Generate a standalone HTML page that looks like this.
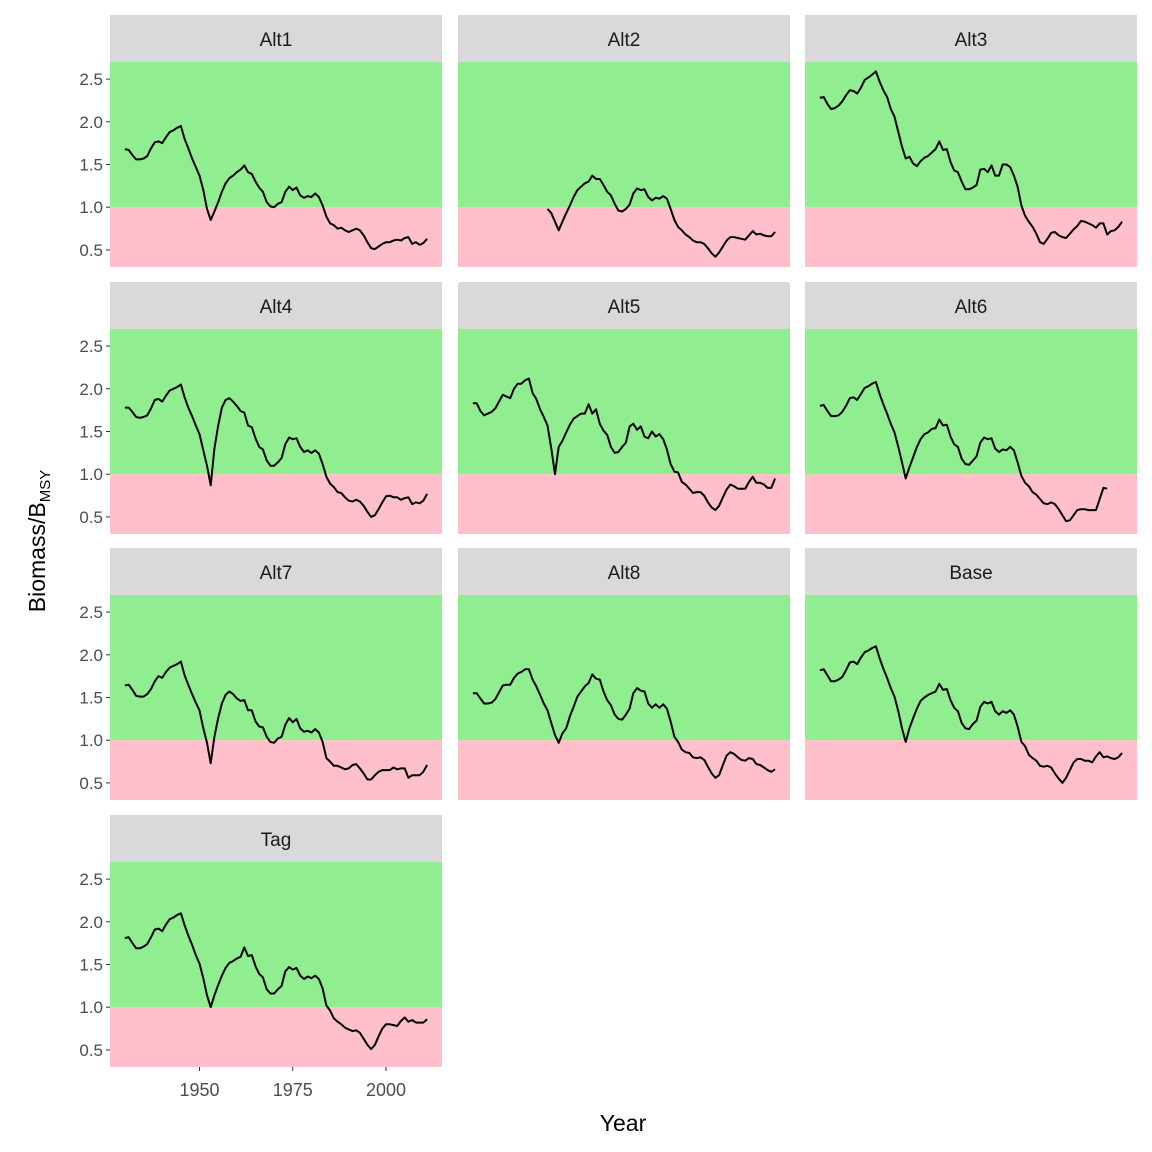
<!DOCTYPE html>
<html><head><meta charset="utf-8"><style>
html,body{margin:0;padding:0;background:#fff}
svg{display:block;font-family:"Liberation Sans",sans-serif}
</style></head><body>
<svg id="chart" width="1152" height="1152" viewBox="0 0 1152 1152" xmlns="http://www.w3.org/2000/svg">
<text x="623" y="1131" font-size="23" text-anchor="middle" fill="#000">Year</text>
<text transform="translate(45,541) rotate(-90)" font-size="23" text-anchor="middle" fill="#000">Biomass/B<tspan font-size="15" dy="5">MSY</tspan></text>
</svg>
<script>
const panels = ["Alt1","Alt2","Alt3","Alt4","Alt5","Alt6","Alt7","Alt8","Base","Tag"];
const startYears = [1930,1950,1930,1930,1930,1930,1930,1930,1930,1930];
const yTicks = [0.5,1.0,1.5,2.0,2.5];
const yTickLabels = ["0.5","1.0","1.5","2.0","2.5"];
const xTicks = [1950,1975,2000];
const xTickLabels = ["1950","1975","2000"];
const threshold = 1.0;
const alt1 = [1.68,1.67,1.61,1.56,1.56,1.57,1.60,1.69,1.76,1.77,1.75,1.82,1.88,1.90,1.93,1.95,1.80,1.69,1.57,1.47,1.37,1.20,0.98,0.85,0.95,1.06,1.18,1.28,1.34,1.37,1.41,1.44,1.49,1.41,1.39,1.30,1.23,1.18,1.06,1.01,1.00,1.04,1.06,1.18,1.24,1.20,1.23,1.14,1.11,1.13,1.12,1.16,1.12,1.02,0.89,0.81,0.79,0.75,0.76,0.73,0.71,0.73,0.75,0.73,0.67,0.59,0.52,0.51,0.54,0.57,0.59,0.59,0.61,0.62,0.61,0.64,0.65,0.57,0.59,0.56,0.58,0.63];
const alt2 = [0.98,0.93,0.83,0.73,0.83,0.93,1.02,1.12,1.20,1.24,1.28,1.30,1.37,1.33,1.33,1.26,1.18,1.14,1.04,0.96,0.95,0.98,1.03,1.16,1.22,1.20,1.21,1.12,1.08,1.11,1.10,1.13,1.10,0.98,0.85,0.77,0.73,0.68,0.65,0.61,0.59,0.59,0.57,0.52,0.46,0.42,0.47,0.54,0.61,0.65,0.65,0.64,0.63,0.62,0.67,0.72,0.68,0.69,0.67,0.66,0.66,0.71];
const alt3 = [2.28,2.29,2.21,2.15,2.16,2.19,2.24,2.31,2.37,2.36,2.33,2.40,2.49,2.52,2.55,2.59,2.47,2.37,2.29,2.15,2.06,1.88,1.71,1.57,1.59,1.51,1.48,1.54,1.58,1.60,1.64,1.68,1.77,1.67,1.68,1.53,1.43,1.41,1.30,1.21,1.21,1.23,1.26,1.44,1.45,1.41,1.49,1.37,1.37,1.50,1.50,1.47,1.37,1.24,1.02,0.90,0.83,0.77,0.69,0.59,0.57,0.63,0.70,0.71,0.67,0.65,0.64,0.69,0.74,0.78,0.84,0.83,0.81,0.79,0.76,0.81,0.81,0.68,0.72,0.73,0.77,0.83];
const alt4 = [1.78,1.78,1.73,1.67,1.66,1.67,1.69,1.77,1.87,1.88,1.85,1.92,1.98,2.00,2.02,2.05,1.90,1.78,1.68,1.57,1.47,1.28,1.10,0.87,1.30,1.57,1.78,1.87,1.89,1.85,1.80,1.74,1.72,1.57,1.55,1.42,1.32,1.29,1.16,1.10,1.10,1.14,1.19,1.35,1.43,1.41,1.42,1.32,1.26,1.28,1.25,1.28,1.24,1.12,0.97,0.89,0.85,0.79,0.78,0.73,0.69,0.68,0.70,0.68,0.63,0.56,0.50,0.52,0.59,0.67,0.74,0.75,0.73,0.73,0.70,0.72,0.73,0.65,0.67,0.66,0.69,0.77];
const alt5 = [1.83,1.83,1.74,1.69,1.71,1.73,1.77,1.85,1.93,1.91,1.89,2.00,2.06,2.06,2.10,2.12,1.95,1.88,1.76,1.67,1.57,1.30,1.00,1.32,1.39,1.49,1.58,1.65,1.68,1.71,1.71,1.82,1.71,1.76,1.59,1.51,1.46,1.32,1.25,1.26,1.32,1.37,1.56,1.59,1.52,1.56,1.44,1.42,1.50,1.44,1.47,1.41,1.29,1.12,1.03,1.02,0.91,0.88,0.83,0.78,0.79,0.79,0.75,0.67,0.61,0.58,0.63,0.73,0.82,0.88,0.86,0.83,0.83,0.83,0.91,0.97,0.90,0.90,0.88,0.84,0.84,0.95];
const alt6 = [1.80,1.81,1.74,1.68,1.68,1.69,1.73,1.80,1.89,1.90,1.87,1.94,2.01,2.03,2.06,2.08,1.94,1.82,1.71,1.59,1.49,1.32,1.14,0.95,1.08,1.20,1.32,1.41,1.47,1.49,1.53,1.54,1.64,1.57,1.58,1.44,1.35,1.32,1.18,1.12,1.11,1.16,1.21,1.37,1.43,1.41,1.42,1.30,1.26,1.29,1.28,1.32,1.28,1.14,0.98,0.90,0.86,0.79,0.76,0.71,0.66,0.65,0.67,0.65,0.59,0.52,0.45,0.46,0.52,0.58,0.59,0.59,0.58,0.58,0.58,0.71,0.84,0.83];
const alt7 = [1.64,1.65,1.59,1.52,1.51,1.51,1.54,1.60,1.69,1.75,1.73,1.80,1.85,1.87,1.89,1.92,1.76,1.65,1.54,1.44,1.35,1.14,0.97,0.73,1.04,1.26,1.43,1.53,1.57,1.54,1.49,1.46,1.47,1.35,1.35,1.22,1.16,1.15,1.04,0.98,0.97,1.02,1.04,1.18,1.26,1.21,1.25,1.14,1.10,1.11,1.09,1.13,1.09,0.98,0.79,0.75,0.70,0.70,0.68,0.66,0.67,0.71,0.72,0.67,0.61,0.54,0.54,0.59,0.63,0.65,0.65,0.65,0.68,0.66,0.67,0.67,0.56,0.59,0.59,0.59,0.63,0.71];
const alt8 = [1.55,1.55,1.49,1.43,1.43,1.44,1.48,1.56,1.64,1.65,1.65,1.73,1.78,1.80,1.83,1.83,1.71,1.63,1.53,1.43,1.35,1.20,1.06,0.97,1.08,1.14,1.28,1.39,1.51,1.57,1.63,1.67,1.77,1.72,1.71,1.57,1.47,1.41,1.30,1.25,1.24,1.30,1.37,1.55,1.61,1.58,1.57,1.43,1.38,1.42,1.38,1.42,1.37,1.22,1.04,0.98,0.89,0.86,0.85,0.80,0.79,0.80,0.77,0.69,0.61,0.56,0.59,0.71,0.82,0.86,0.84,0.80,0.77,0.76,0.79,0.78,0.72,0.71,0.68,0.65,0.63,0.66];
const base = [1.82,1.83,1.76,1.69,1.69,1.71,1.74,1.82,1.91,1.92,1.89,1.97,2.03,2.05,2.08,2.10,1.96,1.84,1.73,1.61,1.51,1.34,1.14,0.98,1.14,1.26,1.37,1.46,1.50,1.53,1.55,1.57,1.66,1.59,1.60,1.47,1.38,1.34,1.20,1.14,1.13,1.19,1.23,1.39,1.45,1.43,1.45,1.34,1.30,1.34,1.32,1.35,1.30,1.16,0.98,0.93,0.83,0.79,0.76,0.70,0.69,0.70,0.68,0.61,0.55,0.50,0.56,0.65,0.74,0.78,0.78,0.76,0.76,0.74,0.81,0.86,0.80,0.81,0.79,0.78,0.80,0.85];
const tag = [1.81,1.82,1.75,1.69,1.69,1.71,1.74,1.82,1.91,1.92,1.89,1.97,2.03,2.05,2.08,2.10,1.96,1.84,1.73,1.61,1.51,1.34,1.14,1.00,1.14,1.26,1.37,1.46,1.52,1.54,1.57,1.59,1.70,1.60,1.61,1.48,1.39,1.35,1.21,1.16,1.16,1.21,1.25,1.42,1.47,1.44,1.46,1.37,1.33,1.36,1.34,1.37,1.33,1.22,1.02,0.96,0.87,0.83,0.80,0.76,0.74,0.72,0.73,0.70,0.63,0.56,0.51,0.56,0.66,0.75,0.80,0.80,0.79,0.78,0.84,0.88,0.83,0.85,0.82,0.82,0.82,0.86];
const series = [alt1,alt2,alt3,alt4,alt5,alt6,alt7,alt8,base,tag];

const NS="http://www.w3.org/2000/svg";
const svg=document.getElementById('chart');
const colLeft=[110,458,805], rowTop=[15,282,548,815], PW=332, SH=47, PH=205;
const X0=1926.0, X1=2015.0, Y0=0.30, Y1=2.70;
function mk(tag, attrs, parent){const e=document.createElementNS(NS,tag);for(const k in attrs)e.setAttribute(k,attrs[k]);(parent||svg).appendChild(e);return e;}

panels.forEach((name,i)=>{
  const c=i%3, r=Math.floor(i/3);
  const left=colLeft[c], top=rowTop[r]+SH;
  const xs=y=>left+(y-X0)/(X1-X0)*PW;
  const ys=v=>top+(Y1-v)/(Y1-Y0)*PH;
  const g=mk('g',{});
  
  
  const strip=mk('rect',{x:left,y:rowTop[r],width:PW,height:SH,fill:'#d9d9d9'},g);
  
  
  const st=mk('text',{x:left+PW/2,y:rowTop[r]+31,'font-size':'19','text-anchor':'middle',fill:'#1a1a1a'},g);
  st.textContent=name;
  
  
  const green=mk('rect',{x:left,y:top,width:PW,height:ys(threshold)-top,fill:'#90ee90'},g);
  
  
  const pink=mk('rect',{x:left,y:ys(threshold),width:PW,height:top+PH-ys(threshold),fill:'#ffc0cb'},g);
  
  
  const vals=series[i];
  const d=vals.map((v,k)=>(k?'L':'M')+xs(startYears[i]+k).toFixed(1)+','+ys(v).toFixed(1)).join(' ');
  const line=mk('path',{d:d,fill:'none',stroke:'#000','stroke-width':'2','stroke-linejoin':'round'},g);
  
  
  if(c===0){
    yTicks.forEach((t,k)=>{
      const tk=mk('line',{x1:left-4,x2:left,y1:ys(t),y2:ys(t),stroke:'#333','stroke-width':'1'},g);
      
      
      const tl=mk('text',{x:left-7,y:ys(t)+6,'font-size':'17','text-anchor':'end',fill:'#4d4d4d'},g);
      tl.textContent=yTickLabels[k];
      
      
    });
  }
  if(i===panels.length-1){
    xTicks.forEach((t,k)=>{
      const tk=mk('line',{x1:xs(t),x2:xs(t),y1:top+PH,y2:top+PH+4,stroke:'#333','stroke-width':'1'},g);
      
      
      const tl=mk('text',{x:xs(t),y:top+PH+29,'font-size':'18','text-anchor':'middle',fill:'#4d4d4d'},g);
      tl.textContent=xTickLabels[k];
      
      
    });
  }
});
</script>
</body></html>
